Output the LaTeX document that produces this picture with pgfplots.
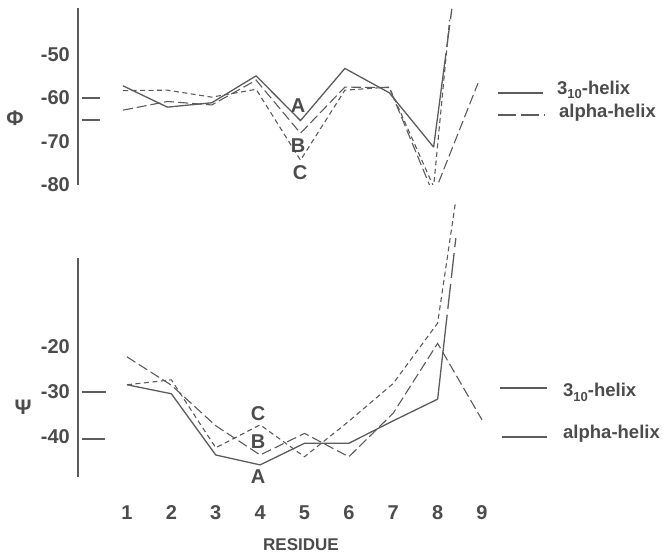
\documentclass[border=0pt]{standalone}
\usepackage{fontspec}
\setmainfont{Liberation Sans}
\usepackage{pgfplots}
\pgfplotsset{compat=1.18}

\definecolor{ink}{gray}{0.30}
\definecolor{pen}{gray}{0.36}

\newcommand{\lab}{\fontsize{20}{23}\selectfont\bfseries}
\newcommand{\leg}{\fontsize{18.5}{21}\selectfont\bfseries}

\pgfplotsset{
  panel/.style={
    scale only axis, width=420pt, anchor=south west,
    axis line style={draw=none}, major tick length=0pt,
    xtick=\empty,
    yticklabel style={anchor=east, inner sep=0pt, xshift=-8pt, text=ink, font=\lab},
  },
  serA/.style={pen, line width=1.3pt, line join=round, no markers},
  serB/.style={pen, line width=1.1pt, dash pattern=on 10pt off 4pt, no markers},
  serC/.style={pen, line width=1.1pt, dash pattern=on 5pt off 3.5pt, no markers},
}

\begin{document}
\begin{tikzpicture}
\useasboundingbox (0,0) rectangle (665pt,558pt);

% phi panel
\begin{axis}[panel, at={(78pt,373pt)}, height=177pt,
    xmin=-0.0141, xmax=9.4507, ymin=-80, ymax=-39.31,
    ytick={-80,-70,-60,-50}, yticklabels={-80,-70,-60,-50}]
\addplot[serA] coordinates {(1,-57.2) (2,-62.1) (3,-61.1) (4,-54.9) (5,-65.2) (6,-53.2) (7,-58.8) (8,-71.3)};
\addplot[serA, dash pattern=on 95pt off 6pt on 22pt off 6pt on 30pt] coordinates {(8,-71.3) (8.41,-39.5)};
\addplot[serB] coordinates {(1,-62.8) (2,-60.8) (3,-61.6) (4,-55.9) (5,-68.1) (6,-57.5) (7,-57.6) (8,-82.3) (9,-56.6)};
\addplot[serC] coordinates {(1,-58.3) (2,-58.2) (3,-59.8) (4,-58.0) (5,-74.3) (6,-58.2) (7,-57.5) (8,-80.4) (8.36,-42)};
\end{axis}

% psi panel
\begin{axis}[panel, at={(78pt,81pt)}, height=274pt,
    xmin=-0.1042, xmax=9.3606, ymin=-48.89, ymax=11.98,
    ytick={-40,-30,-20}, yticklabels={-40,-30,-20},
    xtick={1,...,9}, xticklabels={1,2,3,4,5,6,7,8,9},
    xticklabel style={anchor=center, inner sep=0pt, yshift=-36pt, text=ink, font=\lab}]
\addplot[serA] coordinates {(1,-28.4) (2,-30.4) (3,-44.0) (4,-46.2) (5,-41.4) (6,-41.4) (7,-36.4) (8,-31.6)};
\addplot[serA, dash pattern=on 85pt off 6pt on 25pt off 6pt on 25pt off 6pt on 30pt] coordinates {(8,-31.6) (8.41,4.2)};
\addplot[serB] coordinates {(1,-22.2) (2,-28.5) (3,-37.5) (4,-44.0) (5,-39.2) (6,-44.4) (7,-34.7) (8,-19.2) (9,-36.2)};
\addplot[serC] coordinates {(1,-28.4) (2,-27.3) (3,-42.4) (4,-37.3) (5,-44.4) (6,-36.5) (7,-28.1) (8,-14.7) (8.40,12)};
\end{axis}

% axis lines and reference marks
\begin{scope}[pen, line width=1.2pt]
\draw (78pt,373pt) -- (78pt,550pt);
\draw (78pt,81pt) -- (78pt,300pt);
\draw (81.7pt,460pt) -- (100pt,460pt);
\draw (81.7pt,438pt) -- (100pt,438pt);
\draw (81.7pt,166pt) -- (106pt,166pt);
\draw (81.7pt,119pt) -- (105pt,119pt);
\draw (498pt,465pt) -- (543pt,465pt);
\draw[dash pattern=on 18pt off 5pt] (498pt,443pt) -- (545pt,443pt);
\draw (500pt,170pt) -- (547pt,170pt);
\draw (502pt,121pt) -- (547pt,121pt);
\end{scope}

\begin{scope}[text=ink, font=\lab, inner sep=0pt]
\node[anchor=base west, font=\leg] at (557pt,463pt) {3\raisebox{-3.5pt}{\fontsize{13}{13}\selectfont 10}-helix};
\node[anchor=base west, font=\leg] at (559pt,440pt) {alpha-helix};
\node[anchor=base west, font=\leg] at (563pt,161pt) {3\raisebox{-4.5pt}{\fontsize{13}{13}\selectfont 10}-helix};
\node[anchor=base west, font=\leg] at (563pt,120pt) {alpha-helix};
\node at (298pt,452pt) {A};
\node at (298pt,412pt) {B};
\node at (300pt,385pt) {C};
\node at (258pt,144pt) {C};
\node at (258pt,116pt) {B};
\node at (258pt,81pt) {A};
\node[font=\fontsize{21}{24}\selectfont\bfseries] at (15pt,440pt) {Φ};
\node[font=\fontsize{21}{24}\selectfont\bfseries] at (23pt,151pt) {Ψ};
\node[font=\fontsize{17}{20}\selectfont\bfseries] at (301pt,13pt) {RESIDUE};
\end{scope}
\end{tikzpicture}
\end{document}
